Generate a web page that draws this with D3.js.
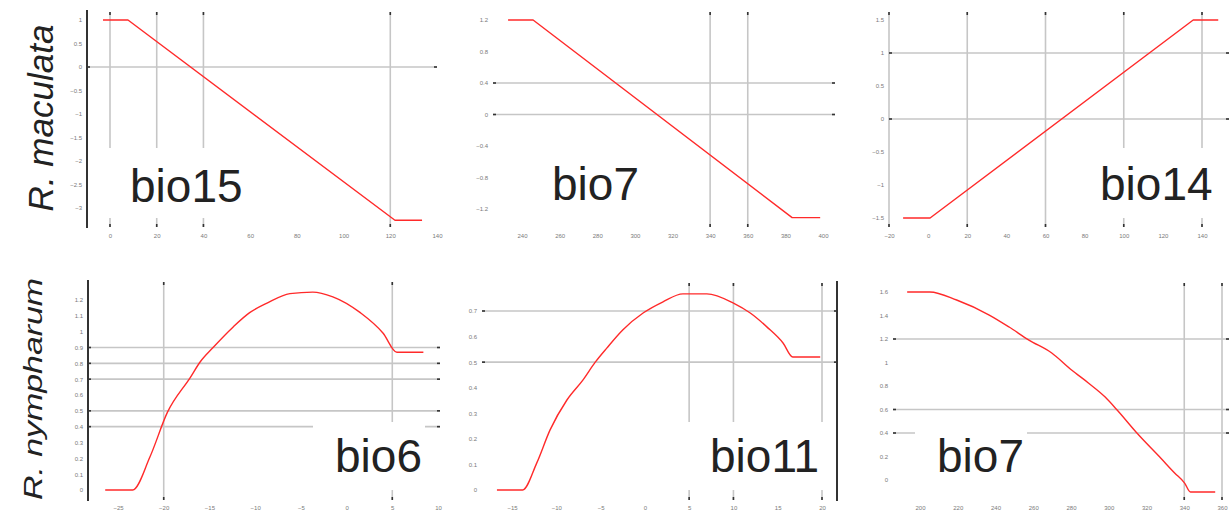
<!DOCTYPE html>
<html>
<head>
<meta charset="utf-8">
<script src="https://cdn.jsdelivr.net/npm/d3@7"></script>
<style>
  body { margin: 0; background: #fff; }
  svg { display: block; font-family: "Liberation Sans", Arial, sans-serif; }
</style>
</head>
<body>
<svg></svg>
<script>
// row labels and panel names
const rowLabels = ["R. maculata", "R. nympharum"]
const panelNames = ["bio15", "bio7", "bio14", "bio6", "bio11", "bio7"]

// bio15 (R. maculata)
const bio15XTicks = [0, 20, 40, 60, 80, 100, 120, 140]
const bio15YTicks = [1, 0.5, 0, -0.5, -1, -1.5, -2, -2.5, -3]
const bio15GridX = [0, 20, 40, 120]
const bio15GridY = [0]
const bio15Curve = [[-3, 1], [7.7, 1], [122, -3.26], [133.6, -3.26]]

// bio7 (R. maculata)
const bio7aXTicks = [240, 260, 280, 300, 320, 340, 360, 380, 400]
const bio7aYTicks = [1.2, 0.8, 0.4, 0, -0.4, -0.8, -1.2]
const bio7aGridX = [340, 360]
const bio7aGridY = [0.4, 0]
const bio7aCurve = [[232.6, 1.2], [245.9, 1.2], [383.6, -1.31], [398.5, -1.31]]

// bio14 (R. maculata)
const bio14XTicks = [-20, 0, 20, 40, 60, 80, 100, 120, 140]
const bio14YTicks = [1.5, 1, 0.5, 0, -0.5, -1, -1.5]
const bio14GridX = [-20, 20, 60, 100, 140]
const bio14GridY = [1, 0]
const bio14Curve = [[-12.8, -1.5], [1, -1.5], [135.5, 1.5], [148.3, 1.5]]

// bio6 (R. nympharum)
const bio6XTicks = [-25, -20, -15, -10, -5, 0, 5, 10]
const bio6YTicks = [1.2, 1.1, 1.0, 0.9, 0.8, 0.7, 0.6, 0.5, 0.4, 0.3, 0.2, 0.1, 0]
const bio6GridX = [-20, 5]
const bio6GridY = [0.9, 0.8, 0.7, 0.5, 0.4]
const bio6Curve = [[-26.4, 0], [-23.4, 0], [-21.5, 0.21], [-19.6, 0.49], [-17.1, 0.71],
  [-16.0, 0.81], [-14.6, 0.9], [-12.4, 1.03], [-10.6, 1.12], [-8.7, 1.18], [-6.2, 1.24],
  [-3.7, 1.25], [-1.5, 1.22], [1.5, 1.12], [4.0, 0.99], [5.5, 0.87], [8.4, 0.87]]

// bio11 (R. nympharum)
const bio11XTicks = [-15, -10, -5, 0, 5, 10, 15, 20]
const bio11YTicks = [0.7, 0.6, 0.5, 0.4, 0.3, 0.2, 0.1, 0]
const bio11GridX = [5, 10, 20]
const bio11GridY = [0.7, 0.5]
const bio11Curve = [[-16.7, 0], [-13.8, 0], [-12.2, 0.106], [-10.7, 0.235], [-8.8, 0.352],
  [-7.0, 0.43], [-5.6, 0.5], [-4.3, 0.555], [-2.5, 0.626], [-0.2, 0.692], [2.0, 0.735],
  [4.3, 0.767], [7.0, 0.767], [10.0, 0.731], [11.9, 0.692], [13.8, 0.637], [15.6, 0.575],
  [16.7, 0.52], [19.8, 0.52]]

// bio7 (R. nympharum)
const bio7bXTicks = [200, 220, 240, 260, 280, 300, 320, 340, 360]
const bio7bYTicks = [1.6, 1.4, 1.2, 1.0, 0.8, 0.6, 0.4, 0.2, 0]
const bio7bGridX = [340, 360]
const bio7bGridY = [1.2, 0.6, 0.4]
const bio7bCurve = [[193.2, 1.6], [205.2, 1.6], [219.4, 1.532], [236.7, 1.404], [247.2, 1.302],
  [257.7, 1.191], [269.8, 1.081], [280.3, 0.936], [289.2, 0.826], [298.1, 0.706],
  [304.9, 0.587], [315.4, 0.391], [327.5, 0.187], [334.9, 0.06], [340.2, -0.026],
  [343.3, -0.102], [356.4, -0.102]]

const xTicksAll = [bio15XTicks, bio7aXTicks, bio14XTicks, bio6XTicks, bio11XTicks, bio7bXTicks]
const yTicksAll = [bio15YTicks, bio7aYTicks, bio14YTicks, bio6YTicks, bio11YTicks, bio7bYTicks]
const gridXAll = [bio15GridX, bio7aGridX, bio14GridX, bio6GridX, bio11GridX, bio7bGridX]
const gridYAll = [bio15GridY, bio7aGridY, bio14GridY, bio6GridY, bio11GridY, bio7bGridY]
const curvesAll = [bio15Curve, bio7aCurve, bio14Curve, bio6Curve, bio11Curve, bio7bCurve]

// panel placement (pixels)
const layout = [
  {xr: [110, 437], yr: [20, 208], frame: [87, 437, 12, 227], axis: "left", box: [100, 148, 155, 70], label: [130, 202], xLabY: 238, smooth: false},
  {xr: [522, 823], yr: [20, 209], frame: [493, 835, 12, 227], axis: null, box: [545, 150, 100, 68], label: [552, 200], xLabY: 238, smooth: false},
  {xr: [889, 1202], yr: [20, 218], frame: [889, 1229, 12, 227], axis: null, box: [1090, 148, 139, 70], label: [1100, 200], xLabY: 238, smooth: false},
  {xr: [118, 438], yr: [300, 490], frame: [88, 440, 282, 500], axis: "left", box: [313, 422, 112, 68], label: [335, 472], xLabY: 510, smooth: true},
  {xr: [512, 822], yr: [311, 490], frame: [482, 837, 283, 500], axis: "right", box: [680, 422, 150, 68], label: [710, 472], xLabY: 510, smooth: true},
  {xr: [920, 1222], yr: [292, 480], frame: [893, 1229, 283, 500], axis: null, box: [915, 422, 112, 70], label: [937, 472], xLabY: 510, smooth: true}
]

const svg = d3.select("svg")
  .attr("width", 1229)
  .attr("height", 514)

svg.append("rect")
  .attr("width", 1229)
  .attr("height", 514)
  .attr("fill", "#fff")

const gridColor = "#c6c6c6"
const dotColor = "#333"

layout.forEach((L, i) => {
  const xt = xTicksAll[i]
  const yt = yTicksAll[i]
  const x = d3.scaleLinear().domain([xt[0], xt[xt.length - 1]]).range(L.xr)
  const y = d3.scaleLinear().domain([yt[0], yt[yt.length - 1]]).range(L.yr)
  const [fl, fr, ft, fb] = L.frame
  const g = svg.append("g").attr("class", "panel")

  // vertical grid lines
  g.selectAll("line.gx")
    .data(gridXAll[i])
    .enter()
    .append("line")
    .attr("class", "gx")
    .attr("x1", d => x(d)).attr("x2", d => x(d))
    .attr("y1", ft).attr("y2", fb)
    .attr("stroke", gridColor)
    .attr("stroke-width", 1.6)

  // horizontal grid lines
  g.selectAll("line.gy")
    .data(gridYAll[i])
    .enter()
    .append("line")
    .attr("class", "gy")
    .attr("x1", fl).attr("x2", fr)
    .attr("y1", d => y(d)).attr("y2", d => y(d))
    .attr("stroke", gridColor)
    .attr("stroke-width", 1.6)

  // small dark ends of the grid lines
  gridXAll[i].forEach(v => {
    [ft, fb - 3].forEach(yy => {
      g.append("rect").attr("x", x(v) - 0.8).attr("y", yy).attr("width", 1.6).attr("height", 3).attr("fill", dotColor)
    })
  })
  gridYAll[i].forEach(v => {
    [fl, fr - 3].forEach(xx => {
      g.append("rect").attr("x", xx).attr("y", y(v) - 0.8).attr("width", 3).attr("height", 1.6).attr("fill", dotColor)
    })
  })

  // white box behind the variable name
  g.append("rect")
    .attr("x", L.box[0]).attr("y", L.box[1])
    .attr("width", L.box[2]).attr("height", L.box[3])
    .attr("fill", "#fff")

  // axis line
  if (L.axis) {
    const ax = L.axis === "left" ? fl : fr
    g.append("line")
      .attr("x1", ax).attr("x2", ax)
      .attr("y1", ft - 2).attr("y2", fb + 1)
      .attr("stroke", "#333")
      .attr("stroke-width", 2)
  }

  // tick labels
  const yAxis = d3.axisLeft(y).tickValues(yt).tickSize(0).tickPadding(0).tickFormat(d3.format("~g"))
  const ya = g.append("g")
    .attr("transform", `translate(${fl - 5},0)`)
    .call(yAxis)
  const xAxis = d3.axisBottom(x).tickValues(xt).tickSize(0).tickPadding(0).tickFormat(d3.format("~g"))
  const xa = g.append("g")
    .attr("transform", `translate(0,${L.xLabY - 4})`)
    .call(xAxis)
  ;[ya, xa].forEach(a => {
    a.select(".domain").remove()
    a.selectAll("text")
      .attr("fill", "#7a7a7a")
      .style("font-size", "6px")
  })

  // response curve
  const line = d3.line()
    .x(d => x(d[0]))
    .y(d => y(d[1]))
    .curve(L.smooth ? d3.curveMonotoneX : d3.curveLinear)
  g.append("path")
    .datum(curvesAll[i])
    .attr("d", line)
    .attr("fill", "none")
    .attr("stroke", "#ff2a2a")
    .attr("stroke-width", 1.4)
    .attr("stroke-linejoin", "round")

  // variable name
  g.append("text")
    .attr("x", L.label[0])
    .attr("y", L.label[1])
    .attr("fill", "#222")
    .style("font-size", "46px")
    .text(panelNames[i])
})

// species names
svg.append("text")
  .attr("transform", "translate(53,118) rotate(-90)")
  .attr("text-anchor", "middle")
  .attr("fill", "#222")
  .style("font-size", "35px")
  .style("font-style", "italic")
  .text(rowLabels[0])

svg.append("text")
  .attr("transform", "translate(42,389) rotate(-90)")
  .attr("text-anchor", "middle")
  .attr("fill", "#222")
  .style("font-size", "26px")
  .style("font-style", "italic")
  .attr("textLength", 222)
  .attr("lengthAdjust", "spacingAndGlyphs")
  .text(rowLabels[1])
</script>
</body>
</html>
